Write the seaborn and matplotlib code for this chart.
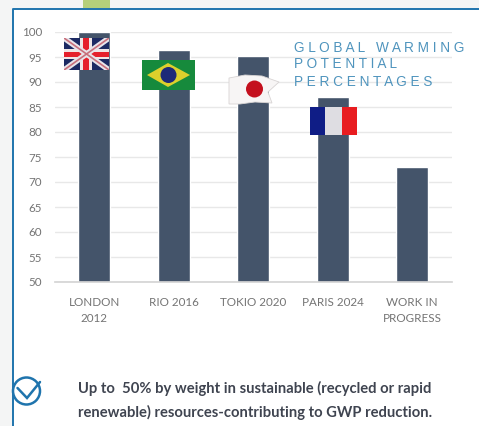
import matplotlib
matplotlib.use("Agg")
import matplotlib.pyplot as plt
import matplotlib.patches as mp
from matplotlib.lines import Line2D
import numpy as np
import pandas as pd
import seaborn as sns

categories = ["LONDON\n2012", "RIO 2016", "TOKIO 2020", "PARIS 2024", "WORK IN\nPROGRESS"]
values = [100, 96.4, 95.3, 87, 73]
yticks = list(range(50, 101, 5))
title_lines = ["G L O B A L   W A R M I N G", "P O T E N T I A L", "P E R C E N T A G E S"]
note_lines = ["Up to  50% by weight in sustainable (recycled or rapid",
              "renewable) resources-contributing to GWP reduction."]

sns.set_theme(style="white")
plt.rcParams["font.family"] = ["Lato", "DejaVu Sans"]

W, H = 479, 426
fig = plt.figure(figsize=(W / 100, H / 100), dpi=100, facecolor="white")

# page background layer in pixel coordinates
bg = fig.add_axes([0, 0, 1, 1], zorder=0)
bg.set_xlim(0, W); bg.set_ylim(H, 0); bg.axis("off")
bg.add_patch(mp.Rectangle((0, 0), W, 8, fc="#f4f5f5", lw=0))
bg.add_patch(mp.Rectangle((0, 0), 13, H, fc="#f4f5f5", lw=0))
bg.add_patch(mp.Rectangle((83, 0), 27, 8, fc="#b5d07a", lw=0))
bg.add_line(Line2D([13.5, 13.5, W], [H, 8.5, 8.5], color="#1f74ad", lw=1.4))

ax = fig.add_axes([54.5 / W, 1 - 282 / H, 397.5 / W, 250 / H], zorder=1)
ax.patch.set_alpha(0)
df = pd.DataFrame({"event": categories, "gwp": values})
sns.barplot(data=df, x="event", y="gwp", color="#44546a", saturation=1, width=0.4, ax=ax, zorder=2)
ax.set_ylim(50, 100)
ax.set_xlim(-0.5, 4.5)
ax.set_yticks(yticks)
ax.set_xlabel(""); ax.set_ylabel("")
ax.grid(axis="y", color="#e8e8e8", lw=1, zorder=0)
ax.set_axisbelow(True)
sns.despine(ax=ax, left=True, top=True, right=True)
ax.spines["bottom"].set_color("#d5d5d5")
ax.tick_params(axis="both", length=0, labelsize=8.4, labelcolor="#747474")
ax.tick_params(axis="x", pad=11)
ax.tick_params(axis="y", pad=9)
for lab in ax.get_xticklabels():
    lab.set_linespacing(1.55)

# overlay layer in pixel coordinates
ov = fig.add_axes([0, 0, 1, 1], zorder=2)
ov.set_xlim(0, W); ov.set_ylim(H, 0); ov.axis("off")

# UK flag
x0, y0, fw, fh = 64, 38, 45, 32
ov.add_patch(mp.Rectangle((x0, y0), fw, fh, fc="#1c2a63", lw=0))
clip = mp.Rectangle((x0, y0), fw, fh, transform=ov.transData)
for a, b in [((x0, y0), (x0 + fw, y0 + fh)), ((x0, y0 + fh), (x0 + fw, y0))]:
    l = ov.plot(*zip(a, b), color="#e8e4ea", lw=4, solid_capstyle="butt")[0]; l.set_clip_path(clip)
for a, b in [((x0, y0), (x0 + fw, y0 + fh)), ((x0, y0 + fh), (x0 + fw, y0))]:
    l = ov.plot(*zip(a, b), color="#c8707c", lw=1.2, solid_capstyle="butt")[0]; l.set_clip_path(clip)
ov.add_patch(mp.Rectangle((x0 + fw/2 - 6, y0), 12, fh, fc="#efe6e6", lw=0))
ov.add_patch(mp.Rectangle((x0, y0 + fh/2 - 5), fw, 10, fc="#efe6e6", lw=0))
ov.add_patch(mp.Rectangle((x0 + fw/2 - 3, y0), 6, fh, fc="#e5202c", lw=0))
ov.add_patch(mp.Rectangle((x0, y0 + fh/2 - 2.5), fw, 5, fc="#e5202c", lw=0))

# Brazil flag
ov.add_patch(mp.Rectangle((142, 60), 53, 30, fc="#168a3c", lw=0))
ov.add_patch(mp.Polygon([(147, 75), (168, 63), (190, 75), (168, 87)], fc="#dcd02c", lw=0))
ov.add_patch(mp.Circle((168.5, 75), 8, fc="#1d2a78", lw=0))

# Japan flag
ov.add_patch(mp.Polygon([(229, 78), (245, 75), (262, 76), (279, 82), (268, 92), (272, 103),
                         (255, 102), (240, 104), (229, 104)], fc="#f7f5f5", ec="#d8d4d4", lw=0.6))
ov.add_patch(mp.Circle((254.5, 89), 8.5, fc="#c4101e", lw=0))

# France flag
ov.add_patch(mp.Rectangle((310, 107), 15, 28, fc="#0f1d86", lw=0))
ov.add_patch(mp.Rectangle((325, 107), 17, 28, fc="#dedde2", lw=0))
ov.add_patch(mp.Rectangle((342, 107), 15, 28, fc="#e81c20", lw=0))

# overlaid heading
for txt, y in zip(title_lines, [47.5, 64.5, 81.5]):
    ov.text(294, y, txt, color="#4f94bd", fontsize=9.85, family="Liberation Sans", va="center", ha="left")

# check badge
ov.add_patch(mp.Circle((26.5, 391), 13.5, fc="none", ec="#1f74ad", lw=1.8))
ov.plot([17.5, 27, 40], [388, 398, 382], color="#1f74ad", lw=1.8, solid_joinstyle="miter")

# footnote
for txt, y in zip(note_lines, [388, 412]):
    ov.text(78, y, txt, color="#3f4450", fontsize=10.6, fontweight="bold", va="center", ha="left")

fig.savefig("out.png", dpi=100)
